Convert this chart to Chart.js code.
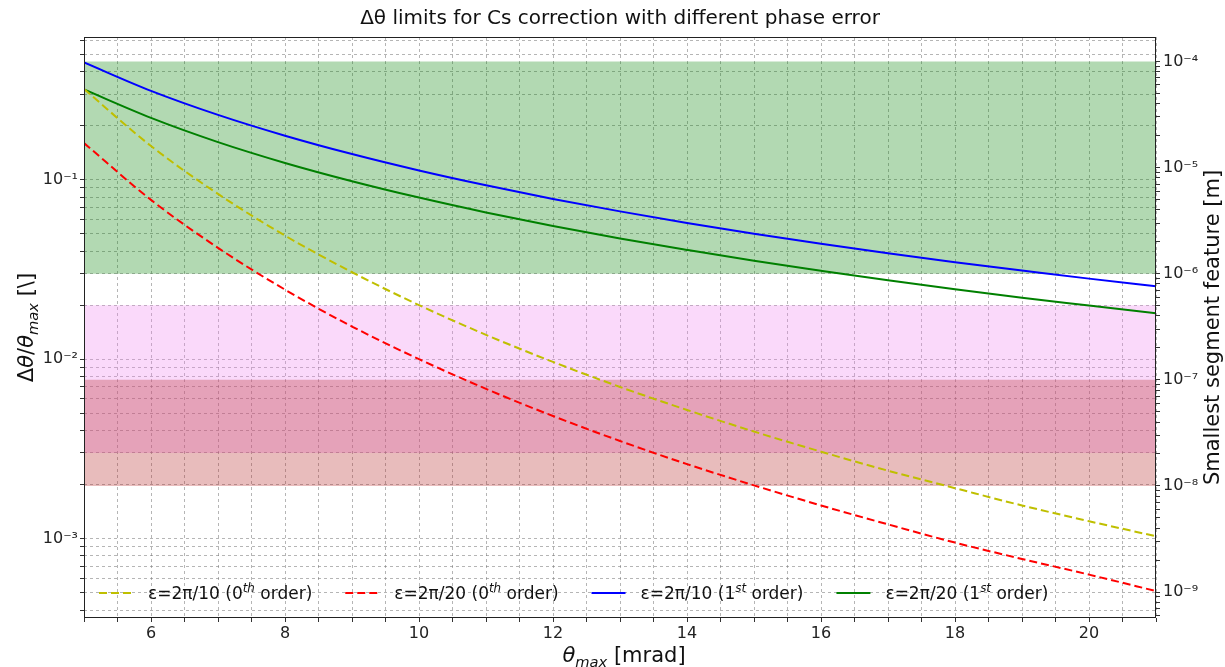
<!DOCTYPE html>
<html>
<head>
<meta charset="utf-8">
<script src="https://cdn.jsdelivr.net/npm/chart.js@4.4.0/dist/chart.umd.min.js"></script>
<style>
  html, body { margin: 0; padding: 0; background: #fff; }
  canvas { display: block; }
</style>
</head>
<body>
<canvas id="Chart" width="1225" height="667"></canvas>
<script>
// θmax [mrad]
var thetaMax = [5, 6, 7, 8, 9, 10, 11, 12, 13, 14, 15, 16, 17, 18, 19, 20, 21];

// Δθ/θmax (left axis)
var eps10_0th = [0.32, 0.154, 0.0833, 0.0488, 0.0305, 0.0200, 0.01366, 0.00965, 0.00700,
                 0.00521, 0.00395, 0.00305, 0.00239, 0.00191, 0.00153, 0.00125, 0.00103];
var eps20_0th = [0.16, 0.0772, 0.0417, 0.0244, 0.0152, 0.0100, 0.00683, 0.00482, 0.00350,
                 0.00260, 0.00198, 0.00153, 0.00120, 0.00095, 0.00077, 0.00063, 0.00051];
var eps10_1st = [0.45, 0.3125, 0.2296, 0.1758, 0.1389, 0.1125, 0.0930, 0.0781, 0.0666,
                 0.0574, 0.0500, 0.0439, 0.0389, 0.0347, 0.0312, 0.0281, 0.0255];
var eps20_1st = [0.318, 0.221, 0.162, 0.124, 0.0981, 0.0795, 0.0657, 0.0552, 0.0470,
                 0.0406, 0.0353, 0.0311, 0.0275, 0.0245, 0.0220, 0.0199, 0.0180];

// legend labels (text, superscript, rest)
var seriesLabels = [
  ["ε=2π/10 (0", "th", " order)"],
  ["ε=2π/20 (0", "th", " order)"],
  ["ε=2π/10 (1", "st", " order)"],
  ["ε=2π/20 (1", "st", " order)"]
];

// shaded bands [low, high]
var bandGreen  = [1e-6, 1e-4];   // right axis [m]
var bandViolet = [0.003, 0.02];  // left axis
var bandRed    = [1e-8, 1e-7];   // right axis [m]

// tick labels
var xTickLabels     = [6, 8, 10, 12, 14, 16, 18, 20];
var leftTickValues  = [1e-3, 1e-2, 1e-1];
var leftTickLabels  = ["10⁻³", "10⁻²", "10⁻¹"];
var rightTickValues = [1e-9, 1e-8, 1e-7, 1e-6, 1e-5, 1e-4];
var rightTickLabels = ["10⁻⁹", "10⁻⁸", "10⁻⁷", "10⁻⁶", "10⁻⁵", "10⁻⁴"];

var FONT = "'DejaVu Sans', sans-serif";
var gridColor = "rgba(120,120,120,0.55)";
var tickColor = "#333";

function pts(ys) {
  return thetaMax.map(function (x, i) { return { x: x, y: ys[i] }; });
}
function band(b) {
  return [{ x: thetaMax[0], y: b[1] }, { x: thetaMax[thetaMax.length - 1], y: b[1] }];
}

// log ticks at 1..9 x 10^n so grid lines match matplotlib's minor grid
function logTicks(scale) {
  var ticks = [];
  var e0 = Math.floor(Math.log10(scale.min)), e1 = Math.ceil(Math.log10(scale.max));
  for (var e = e0; e <= e1; e++) {
    for (var m = 1; m < 10; m++) {
      var v = parseFloat((m * Math.pow(10, e)).toPrecision(6));
      if (v >= scale.min && v <= scale.max) ticks.push({ value: v });
    }
  }
  scale.ticks = ticks;
}
function lookup(values, labels, v) {
  for (var i = 0; i < values.length; i++) {
    if (Math.abs(values[i] / v - 1) < 1e-6) return labels[i];
  }
  return "";
}

// text with italic / sub / superscript parts
function drawRich(ctx, parts, x, y, size, align) {
  var w = 0, i, p, fs;
  function font(p) {
    fs = p.pos ? size * 0.7 : size;
    return (p.it ? "italic " : "") + fs + "px " + FONT;
  }
  for (i = 0; i < parts.length; i++) { ctx.font = font(parts[i]); w += ctx.measureText(parts[i].t).width; }
  var cx = align === "center" ? x - w / 2 : x;
  ctx.textAlign = "left";
  ctx.textBaseline = "alphabetic";
  for (i = 0; i < parts.length; i++) {
    p = parts[i];
    ctx.font = font(p);
    var dy = p.pos === "sub" ? size * 0.22 : (p.pos === "sup" ? -size * 0.4 : 0);
    ctx.fillText(p.t, cx, y + dy);
    cx += ctx.measureText(p.t).width;
  }
  return cx;
}

var decorations = {
  id: "decorations",
  afterDraw: function (chart) {
    var ctx = chart.ctx, a = chart.chartArea;
    ctx.save();
    // frame
    ctx.strokeStyle = "#222";
    ctx.lineWidth = 1;
    ctx.strokeRect(a.left + 0.5, a.top + 0.5, a.right - a.left - 1, a.bottom - a.top - 1);

    ctx.fillStyle = "#111";
    var midX = (a.left + a.right) / 2, midY = (a.top + a.bottom) / 2;
    // title
    drawRich(ctx, [{ t: "Δθ limits for Cs correction with different phase error" }], midX, 24, 20, "center");
    // x title
    drawRich(ctx, [{ t: "θ", it: 1 }, { t: "max", it: 1, pos: "sub" }, { t: " [mrad]" }], midX + 4, 662, 21, "center");
    // left title
    ctx.save();
    ctx.translate(26, midY);
    ctx.rotate(-Math.PI / 2);
    drawRich(ctx, [{ t: "Δ" }, { t: "θ", it: 1 }, { t: "/" }, { t: "θ", it: 1 }, { t: "max", it: 1, pos: "sub" }, { t: " [\\]" }], 0, 7, 21, "center");
    ctx.restore();
    // right title
    ctx.save();
    ctx.translate(1212, midY);
    ctx.rotate(-Math.PI / 2);
    drawRich(ctx, [{ t: "Smallest segment feature [m]" }], 0, 7, 21, "center");
    ctx.restore();

    // legend, one row at the bottom left of the plot
    var ly = 593, lx = a.left + 15;
    chart.data.datasets.forEach(function (ds, i) {
      if (i >= seriesLabels.length) return;
      ctx.save();
      ctx.strokeStyle = ds.borderColor;
      ctx.lineWidth = 2;
      ctx.setLineDash(ds.borderDash || []);
      ctx.beginPath();
      ctx.moveTo(lx, ly);
      ctx.lineTo(lx + 34, ly);
      ctx.stroke();
      ctx.restore();
      var s = seriesLabels[i];
      var end = drawRich(ctx, [{ t: s[0] }, { t: s[1], it: 1, pos: "sup" }, { t: s[2] }], lx + 49, ly + 6, 17, "left");
      lx = end + 33;
    });
    ctx.restore();
  }
};

function lineSet(label, ys, color, dash) {
  return {
    label: label, data: pts(ys), yAxisID: "y",
    borderColor: color, borderWidth: 2, borderDash: dash,
    pointRadius: 0, fill: false, cubicInterpolationMode: "monotone", order: 1
  };
}
function bandSet(b, axis, color) {
  return {
    label: "", data: band(b), yAxisID: axis,
    borderWidth: 0, borderColor: "rgba(0,0,0,0)", backgroundColor: color,
    pointRadius: 0, fill: { value: b[0] }, order: 10
  };
}

var ctx = document.getElementById("Chart").getContext("2d");
var myChart = new Chart(ctx, {
  type: "line",
  data: {
    datasets: [
      lineSet(seriesLabels[0].join(""), eps10_0th, "#bfbf00", [8, 4]),
      lineSet(seriesLabels[1].join(""), eps20_0th, "#ff0000", [8, 4]),
      lineSet(seriesLabels[2].join(""), eps10_1st, "#0000ff", []),
      lineSet(seriesLabels[3].join(""), eps20_1st, "#008000", []),
      // earlier in the list = drawn later, so red lies over violet
      bandSet(bandRed, "y2", "rgba(178,34,34,0.3)"),
      bandSet(bandViolet, "y", "rgba(238,130,238,0.3)"),
      bandSet(bandGreen, "y2", "rgba(0,128,0,0.3)")
    ]
  },
  options: {
    responsive: false,
    animation: false,
    devicePixelRatio: 1,
    layout: { padding: { top: 37, left: 0, right: 0, bottom: 0 } },
    plugins: { legend: { display: false }, title: { display: false }, tooltip: { enabled: false } },
    scales: {
      x: {
        type: "linear", min: 5, max: 21,
        afterFit: function (s) { s.height = 49; },
        grid: { color: gridColor, tickColor: tickColor, tickLength: 4 },
        border: { display: false, dash: [3, 3] },
        ticks: {
          stepSize: 0.5, autoSkip: false, maxRotation: 0, padding: 2,
          color: "#222", font: { family: FONT, size: 16 },
          callback: function (v) { return xTickLabels.indexOf(v) >= 0 ? String(v) : ""; }
        }
      },
      y: {
        type: "logarithmic", position: "left", min: 3.61e-4, max: 0.624,
        afterFit: function (s) { s.width = 84; },
        afterBuildTicks: logTicks,
        grid: { color: gridColor, tickColor: tickColor, tickLength: 4 },
        border: { display: false, dash: [3, 3] },
        ticks: {
          autoSkip: false, padding: 2, color: "#222", font: { family: FONT, size: 16 },
          callback: function (v) { return lookup(leftTickValues, leftTickLabels, v); }
        }
      },
      y2: {
        type: "logarithmic", position: "right", min: 5.69e-10, max: 1.70e-4,
        afterFit: function (s) { s.width = 69; },
        afterBuildTicks: logTicks,
        grid: { drawOnChartArea: false, tickColor: tickColor, tickLength: 4 },
        border: { display: false },
        ticks: {
          autoSkip: false, padding: 3, color: "#222", font: { family: FONT, size: 16 },
          callback: function (v) { return lookup(rightTickValues, rightTickLabels, v); }
        }
      }
    }
  },
  plugins: [decorations]
});
</script>
</body>
</html>
